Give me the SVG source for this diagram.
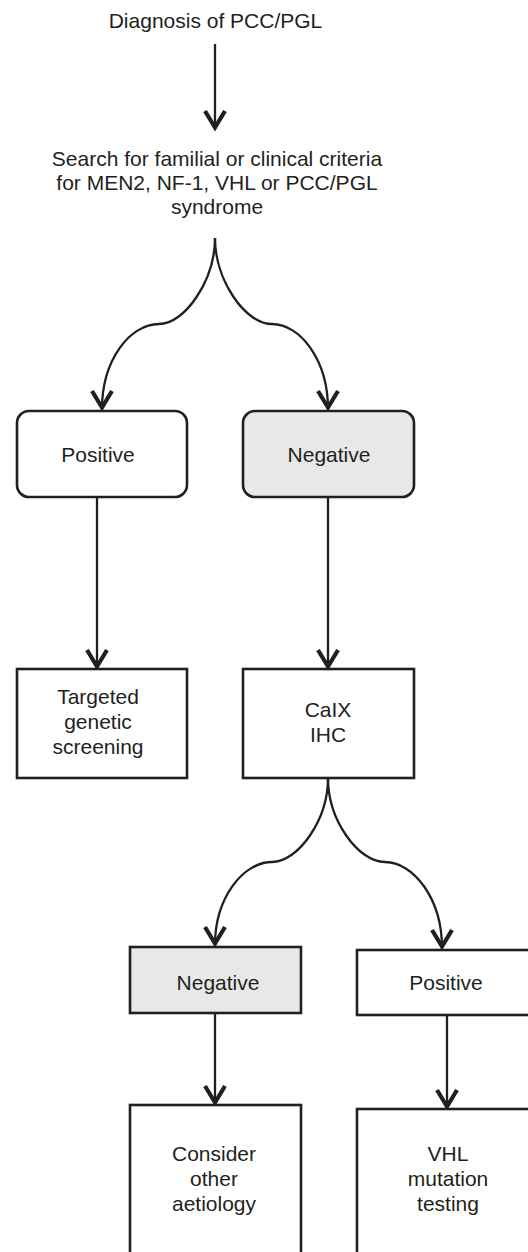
<svg xmlns="http://www.w3.org/2000/svg" width="528" height="1252" viewBox="0 0 528 1252">
  <style>
    .lbl { font-family: "Liberation Sans", Arial, sans-serif; font-size: 21px; fill: #231f20; text-anchor: middle; }
    .box { fill: #ffffff; stroke: #231f20; stroke-width: 2.6; }
    .shaded { fill: #e8e8e8; }
    .edge { fill: none; stroke: #231f20; stroke-width: 2.3; marker-end: url(#chev); }
  </style>
  <defs>
    <marker id="chev" viewBox="-24 -13 28 26" markerWidth="28" markerHeight="26" refX="0" refY="0" orient="auto" markerUnits="userSpaceOnUse">
      <path d="M-18,-10 L-1.5,0 L-18,10" fill="none" stroke="#231f20" stroke-width="4.2" stroke-linejoin="miter" stroke-linecap="butt"/>
    </marker>
  </defs>

  <rect width="528" height="1252" fill="#ffffff"/>

  <g id="connectors">
    <path class="edge" d="M215,44 V129"/>
    <path class="edge" d="M215,238 C215,280 185,324 159,324 C130,324 102,360 102,409"/>
    <path class="edge" d="M215,238 C215,280 245,324 272,324 C300,324 328,360 328,409"/>
    <path class="edge" d="M97,497 V668"/>
    <path class="edge" d="M328,497 V668"/>
    <path class="edge" d="M328,778 C328,820 298,862 272,862 C243,862 215,898 215,945"/>
    <path class="edge" d="M328,778 C328,820 358,862 385,862 C413,862 442,898 442,948"/>
    <path class="edge" d="M215,1013 V1104"/>
    <path class="edge" d="M447,1015 V1108"/>
  </g>

  <g id="diagnosis">
    <text class="lbl" x="215.5" y="28">Diagnosis of PCC/PGL</text>
  </g>

  <g id="search">
    <text class="lbl" x="217" y="166">Search for familial or clinical criteria</text>
    <text class="lbl" x="217" y="190">for MEN2, NF-1, VHL or PCC/PGL</text>
    <text class="lbl" x="217" y="214">syndrome</text>
  </g>

  <g id="criteria-positive">
    <rect class="box" x="17" y="411" width="170" height="86" rx="12"/>
    <text class="lbl" x="98" y="462">Positive</text>
  </g>

  <g id="criteria-negative">
    <rect class="box shaded" x="243" y="411" width="171" height="86" rx="12"/>
    <text class="lbl" x="329" y="462">Negative</text>
  </g>

  <g id="targeted-screening">
    <rect class="box" x="17" y="669" width="170" height="109"/>
    <text class="lbl" x="98" y="704">Targeted</text>
    <text class="lbl" x="98" y="729">genetic</text>
    <text class="lbl" x="98" y="754">screening</text>
  </g>

  <g id="caix-ihc">
    <rect class="box" x="243" y="669" width="171" height="109"/>
    <text class="lbl" x="328" y="717">CaIX</text>
    <text class="lbl" x="328" y="742">IHC</text>
  </g>

  <g id="ihc-negative">
    <rect class="box shaded" x="130" y="947" width="171" height="66"/>
    <text class="lbl" x="218" y="990">Negative</text>
  </g>

  <g id="ihc-positive">
    <rect class="box" x="357" y="950" width="175" height="65"/>
    <text class="lbl" x="446" y="990">Positive</text>
  </g>

  <g id="other-aetiology">
    <rect class="box" x="130" y="1105" width="171" height="170"/>
    <text class="lbl" x="214" y="1161">Consider</text>
    <text class="lbl" x="214" y="1186">other</text>
    <text class="lbl" x="214" y="1211">aetiology</text>
  </g>

  <g id="vhl-testing">
    <rect class="box" x="357" y="1109" width="175" height="170"/>
    <text class="lbl" x="448" y="1161">VHL</text>
    <text class="lbl" x="448" y="1186">mutation</text>
    <text class="lbl" x="448" y="1211">testing</text>
  </g>
</svg>
